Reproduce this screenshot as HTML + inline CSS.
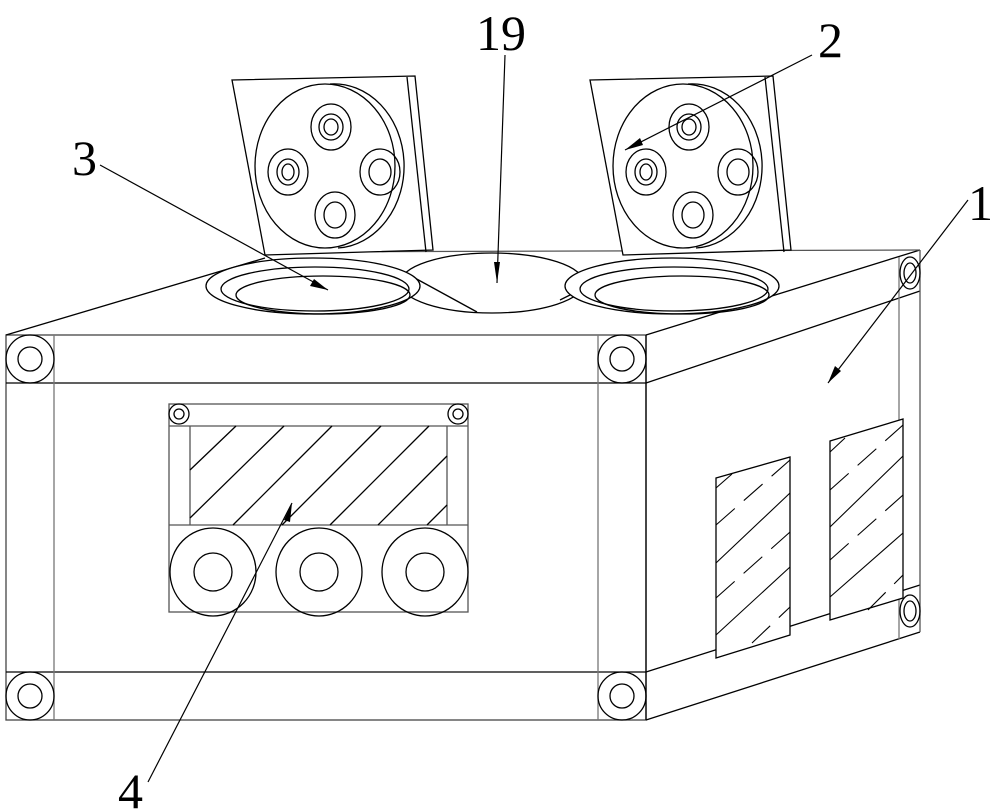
<!DOCTYPE html>
<html><head><meta charset="utf-8"><style>html,body{margin:0;padding:0;background:#fff}svg{display:block}</style></head>
<body>
<svg width="1000" height="811" viewBox="0 0 1000 811" xmlns="http://www.w3.org/2000/svg" fill="none" stroke="#000" stroke-width="1.3">
<!-- front face -->
<rect x="6" y="335" width="640" height="385" stroke="#444"/>
<line x1="6" y1="383" x2="646" y2="383"/>
<line x1="6" y1="672" x2="646" y2="672"/>
<line x1="54" y1="335" x2="54" y2="720" stroke="#777"/>
<line x1="598" y1="335" x2="598" y2="720" stroke="#777"/>
<line x1="646" y1="335" x2="646" y2="720"/>
<g>
<circle cx="30" cy="359" r="24"/><circle cx="30" cy="359" r="12"/>
<circle cx="622" cy="359" r="24"/><circle cx="622" cy="359" r="12"/>
<circle cx="30" cy="696" r="24"/><circle cx="30" cy="696" r="12"/>
<circle cx="622" cy="696" r="24"/><circle cx="622" cy="696" r="12"/>
</g>
<!-- right face -->
<line x1="646" y1="335" x2="920" y2="250"/>
<line x1="646" y1="383" x2="920" y2="291"/>
<line x1="646" y1="672" x2="920" y2="585"/>
<line x1="646" y1="720" x2="920" y2="632"/>
<line x1="920" y1="250" x2="920" y2="632" stroke="#555"/>
<line x1="899" y1="257" x2="899" y2="639" stroke="#777"/>
<ellipse cx="910" cy="273" rx="10" ry="16"/><ellipse cx="910" cy="273" rx="6" ry="10"/>
<ellipse cx="910" cy="611" rx="10" ry="16"/><ellipse cx="910" cy="611" rx="6" ry="10"/>
<!-- right windows -->
<polygon points="716,478 790,457 790,635 716,658" fill="#fff"/>
<polygon points="830,441 903,419 903,598 830,620" fill="#fff"/>
<g stroke-width="1.1">
<line x1="716" y1="488" x2="732" y2="474"/>
<line x1="716" y1="525" x2="790" y2="460" stroke-dasharray="25,12"/>
<line x1="716" y1="563" x2="790" y2="493"/>
<line x1="716" y1="598" x2="790" y2="532" stroke-dasharray="25,12"/>
<line x1="716" y1="635" x2="790" y2="567"/>
<line x1="752" y1="643" x2="790" y2="607" stroke-dasharray="25,12"/>
<line x1="830" y1="452" x2="845" y2="438"/>
<line x1="830" y1="490" x2="903" y2="425" stroke-dasharray="25,12"/>
<line x1="830" y1="527" x2="903" y2="456"/>
<line x1="830" y1="560" x2="903" y2="495" stroke-dasharray="25,12"/>
<line x1="830" y1="597" x2="903" y2="533"/>
<line x1="868" y1="610" x2="903" y2="575" stroke-dasharray="25,12"/>
</g>
<!-- top face -->
<line x1="6" y1="335" x2="265" y2="258"/>
<line x1="265" y1="252" x2="920" y2="250" stroke="#555"/>
<ellipse cx="492" cy="283" rx="92" ry="30" fill="#fff"/>
<line x1="413" y1="277" x2="477" y2="312"/>
<line x1="560" y1="300" x2="580" y2="290"/>
<ellipse cx="313" cy="286" rx="107" ry="28" fill="#fff"/>
<ellipse cx="315" cy="289" rx="94" ry="22"/>
<ellipse cx="323" cy="295" rx="87" ry="19"/>
<ellipse cx="672" cy="286" rx="107" ry="28" fill="#fff"/>
<ellipse cx="674" cy="289" rx="94" ry="22"/>
<ellipse cx="682" cy="295" rx="87" ry="19"/>
<!-- left panel -->
<g>
<polygon points="232,80 415,76 433,250 265,255" fill="#fff"/>
<line x1="407" y1="77" x2="426" y2="252"/>
<ellipse cx="325" cy="166" rx="70" ry="82"/>
<path d="M330 84 A70 82 0 0 1 338 248"/>
<ellipse cx="331" cy="127" rx="20" ry="23"/><ellipse cx="331" cy="127" rx="12" ry="13"/><ellipse cx="331" cy="127" rx="7" ry="8"/>
<ellipse cx="288" cy="172" rx="20" ry="23"/><ellipse cx="288" cy="172" rx="11" ry="13"/><ellipse cx="288" cy="172" rx="6" ry="8"/>
<ellipse cx="380" cy="172" rx="20" ry="23"/><ellipse cx="380" cy="172" rx="11" ry="13"/>
<ellipse cx="335" cy="215" rx="20" ry="23"/><ellipse cx="335" cy="215" rx="11" ry="13"/>
</g>
<g transform="translate(358,0)">
<polygon points="232,80 415,76 433,250 265,255" fill="#fff"/>
<line x1="407" y1="77" x2="426" y2="252"/>
<ellipse cx="325" cy="166" rx="70" ry="82"/>
<path d="M330 84 A70 82 0 0 1 338 248"/>
<ellipse cx="331" cy="127" rx="20" ry="23"/><ellipse cx="331" cy="127" rx="12" ry="13"/><ellipse cx="331" cy="127" rx="7" ry="8"/>
<ellipse cx="288" cy="172" rx="20" ry="23"/><ellipse cx="288" cy="172" rx="11" ry="13"/><ellipse cx="288" cy="172" rx="6" ry="8"/>
<ellipse cx="380" cy="172" rx="20" ry="23"/><ellipse cx="380" cy="172" rx="11" ry="13"/>
<ellipse cx="335" cy="215" rx="20" ry="23"/><ellipse cx="335" cy="215" rx="11" ry="13"/>
</g>
<!-- front window -->
<g stroke="#555">
<rect x="169" y="404" width="299" height="208"/>
<line x1="169" y1="426" x2="468" y2="426"/>
<line x1="169" y1="525" x2="468" y2="525"/>
<line x1="190" y1="426" x2="190" y2="525"/>
<line x1="447" y1="426" x2="447" y2="525"/>
</g>
<circle cx="179" cy="414" r="10"/><circle cx="179" cy="414" r="5"/>
<circle cx="458" cy="414" r="10"/><circle cx="458" cy="414" r="5"/>
<g>
<line x1="190" y1="470" x2="236" y2="426"/>
<line x1="190" y1="518" x2="284" y2="426"/>
<line x1="233" y1="525" x2="332" y2="426"/>
<line x1="282" y1="525" x2="381" y2="426"/>
<line x1="330" y1="525" x2="429" y2="426"/>
<line x1="378" y1="525" x2="447" y2="456"/>
<line x1="427" y1="525" x2="447" y2="505"/>
</g>
<g>
<ellipse cx="213" cy="572" rx="43" ry="44"/><circle cx="213" cy="572" r="19"/>
<ellipse cx="319" cy="572" rx="43" ry="44"/><circle cx="319" cy="572" r="19"/>
<ellipse cx="425" cy="572" rx="43" ry="44"/><circle cx="425" cy="572" r="19"/>
</g>
<!-- leaders -->
<g stroke-width="1.2">
<line x1="100" y1="165" x2="328" y2="290"/>
<line x1="505" y1="55" x2="497" y2="283"/>
<line x1="812" y1="55" x2="625" y2="150"/>
<line x1="968" y1="200" x2="828" y2="383"/>
<line x1="148" y1="782" x2="292" y2="503"/>
</g>
<g fill="#000" stroke="none">
<polygon points="328,290 310,286 314,279"/>
<polygon points="497,283 494,262 500,262"/>
<polygon points="625,150 640,138 643,145"/>
<polygon points="828,383 835,366 841,371"/>
<polygon points="292,503 284,520 290,522"/>
</g>
<g fill="#000" stroke="none" font-family="'Liberation Serif', serif" font-size="50">
<text x="476" y="50">19</text>
<text x="818" y="57">2</text>
<text x="72" y="175">3</text>
<text x="968" y="220">1</text>
<text x="118" y="808">4</text>
</g>
</svg>
</body></html>
